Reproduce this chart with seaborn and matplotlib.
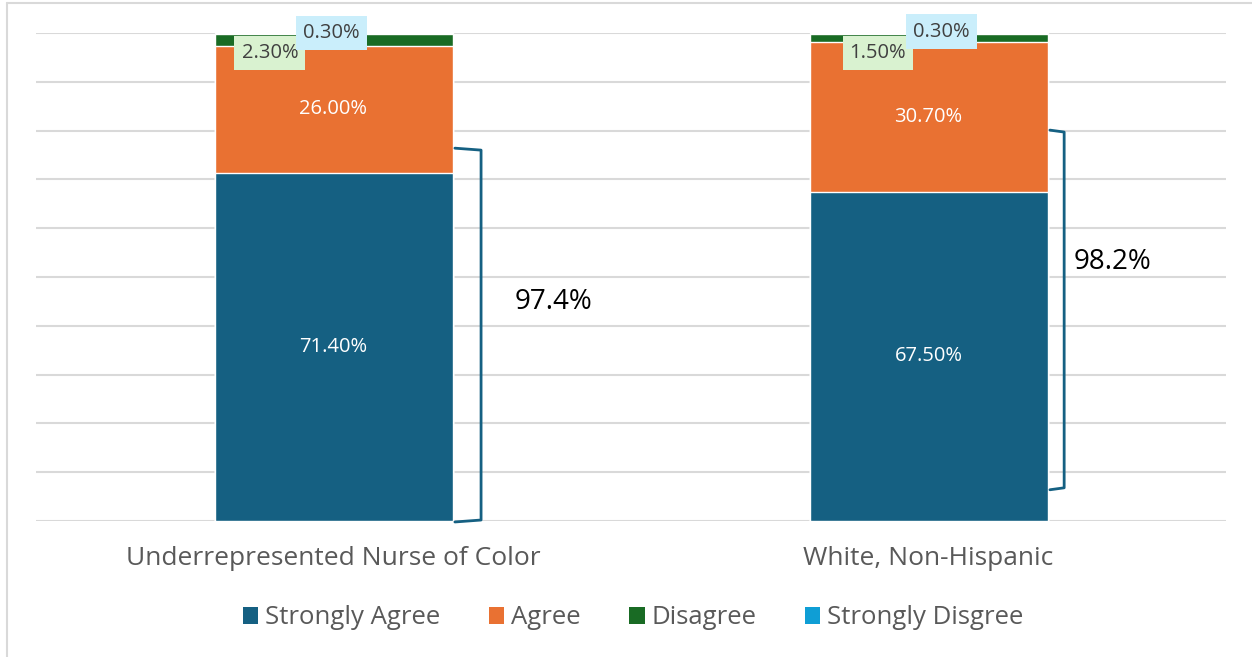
import matplotlib
matplotlib.use("Agg")
import matplotlib.pyplot as plt
from matplotlib.lines import Line2D
from matplotlib.patches import Patch
import seaborn as sns
import pandas as pd
import numpy as np

# data
groups = ["Underrepresented Nurse of Color", "White, Non-Hispanic"]
series = ["Strongly Agree", "Agree", "Disagree", "Strongly Disgree"]
strongly_agree = [71.4, 67.5]
agree = [26.0, 30.7]
disagree = [2.3, 1.5]
strongly_disagree = [0.3, 0.3]
bracket_labels = ["97.4%", "98.2%"]

colors = ["#156082", "#E97132", "#196B24", "#0F9ED5"]
values = [strongly_agree, agree, disagree, strongly_disagree]

sns.set_theme(style="white")
plt.rcParams['font.family'] = ['Open Sans', 'DejaVu Sans']

fig = plt.figure(figsize=(12.52, 6.57), dpi=100)
ax = fig.add_axes([36 / 1252, 1 - 521 / 657, 1190 / 1252, 488 / 657])

# stacked bars: draw cumulative totals from top segment down
cum = np.cumsum(np.array(values), axis=0)
for i in range(len(series) - 1, -1, -1):
    df = pd.DataFrame({"group": groups, "value": cum[i]})
    sns.barplot(data=df, x="group", y="value", color=colors[i], width=0.4,
                saturation=1, ax=ax, zorder=2)

ax.set_ylim(0, 100)
ax.set_yticks(np.arange(0, 101, 10))
ax.yaxis.grid(True, color="#d9d9d9", linewidth=1.5, zorder=0)
ax.set_axisbelow(True)
ax.set_yticklabels([])
ax.tick_params(axis="y", length=0)
ax.tick_params(axis="x", length=0, pad=18, labelsize=19, labelcolor="#595959")
for s in ax.spines.values():
    s.set_visible(False)
ax.set_xlabel("")
ax.set_ylabel("")
ax.set_xlim(-0.5, 1.5)

# labels inside the big segments
for j in range(len(groups)):
    ax.text(j, strongly_agree[j] / 2, f"{strongly_agree[j]:.2f}%", color="white",
            ha="center", va="center", fontsize=14.5, zorder=5)
    ax.text(j, strongly_agree[j] + agree[j] / 2, f"{agree[j]:.2f}%", color="white",
            ha="center", va="center", fontsize=14.5, zorder=5)

# small segment labels with boxes
dis_x = [-0.107, -0.085]
sd_x = [-0.003, 0.022]
sd_y = [100.0, 100.3]
for j in range(len(groups)):
    ax.text(j + dis_x[j], 95.9, f"{disagree[j]:.2f}%", color="#404040",
            ha="center", va="center", fontsize=14.5, zorder=6,
            bbox=dict(boxstyle="square,pad=0.35", fc="#D9F2D0", ec="none"))
    ax.text(j + sd_x[j], sd_y[j], f"{strongly_disagree[j]:.2f}%", color="#404040",
            ha="center", va="center", fontsize=14.5, zorder=7, clip_on=False,
            bbox=dict(boxstyle="square,pad=0.35", fc="#CAEEFB", ec="none"))

# brackets
br_x0 = [0.204, 1.204]
br_x1 = [0.248, 1.228]
br_top = [76.4, 80.1]
br_bot = [-0.2, 6.4]
for j in range(len(groups)):
    ax.plot([br_x0[j], br_x1[j], br_x1[j], br_x0[j]],
            [br_top[j], br_top[j] - 0.4, br_bot[j] + 0.4, br_bot[j]],
            color="#156082", lw=2, solid_joinstyle="round", clip_on=False, zorder=4)
ax.text(0.369, 44.9, bracket_labels[0], fontsize=20, color="black",
        ha="center", va="center")
ax.text(1.31, 53.1, bracket_labels[1], fontsize=20, color="black",
        ha="center", va="center")

# legend
handles = [Patch(facecolor=c, edgecolor="none") for c in colors]
leg = fig.legend(handles, series, loc="center", bbox_to_anchor=(633 / 1252, 1 - 618 / 657),
                 ncol=4, frameon=False, fontsize=18.5, handlelength=0.6, handleheight=0.6,
                 handletextpad=0.25, columnspacing=1.9)
for t in leg.get_texts():
    t.set_color("#595959")

# chart frame (left and top edges)
fig.add_artist(Line2D([6.5 / 1252, 6.5 / 1252], [0, 1 - 3 / 657], color="#d9d9d9",
                      lw=1.5, transform=fig.transFigure))
fig.add_artist(Line2D([6.5 / 1252, 1], [1 - 3 / 657, 1 - 3 / 657], color="#d9d9d9",
                      lw=1.5, transform=fig.transFigure))

fig.savefig("out.png", dpi=100)
